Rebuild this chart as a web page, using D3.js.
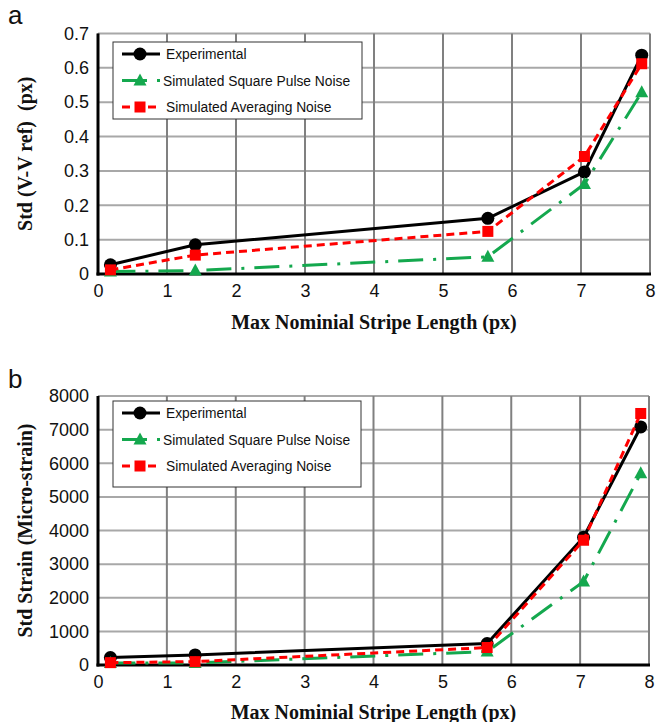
<!DOCTYPE html>
<html>
<head>
<meta charset="utf-8">
<script src="https://cdn.jsdelivr.net/npm/d3@7/dist/d3.min.js"></script>
<style>
  html, body { margin: 0; padding: 0; background: #fff; }
  svg { display: block; }
</style>
</head>
<body>
<svg id="chart" width="664" height="722"></svg>
<script>
// Max nominal stripe length (px) for the five test cases
const stripeLength = [0.18, 1.41, 5.65, 7.05, 7.88];

// Panel a: standard deviation of displacement (V - V ref), px
const dispExperimental = [0.027, 0.085, 0.162, 0.297, 0.637];
const dispSquarePulse  = [0.007, 0.010, 0.050, 0.262, 0.529];
const dispAveraging    = [0.012, 0.055, 0.124, 0.342, 0.612];

// Panel b: standard deviation of strain, micro-strain
const strainExperimental = [220, 300, 640, 3800, 7080];
const strainSquarePulse  = [60, 60, 400, 2480, 5700];
const strainAveraging    = [70, 100, 520, 3710, 7480];

const seriesNames = ["Experimental", "Simulated Square Pulse Noise", "Simulated Averaging Noise"];

const xTicks      = [0, 1, 2, 3, 4, 5, 6, 7, 8];
const dispTicks   = [0, 0.1, 0.2, 0.3, 0.4, 0.5, 0.6, 0.7];
const strainTicks = [0, 1000, 2000, 3000, 4000, 5000, 6000, 7000, 8000];

const styles = {
  "Experimental":                 { color: "#000000", dash: null,          marker: "circle" },
  "Simulated Square Pulse Noise": { color: "#14a84e", dash: "25,10,3,10",  marker: "triangle" },
  "Simulated Averaging Noise":    { color: "#ff0000", dash: "8,5",         marker: "square" }
};

const svg = d3.select("#chart");
const sans = "'Liberation Sans', Arial, sans-serif";
const serif = "'Liberation Serif', 'Times New Roman', serif";

function marker(g, type, x, y, color) {
  if (type === "circle") {
    g.append("circle").attr("cx", x).attr("cy", y).attr("r", 6.5).attr("fill", color);
  } else if (type === "square") {
    g.append("rect").attr("x", x - 5.5).attr("y", y - 5.5).attr("width", 11).attr("height", 11).attr("fill", color);
  } else {
    g.append("path").attr("transform", `translate(${x},${y})`)
      .attr("d", "M0,-7L6.5,5L-6.5,5Z").attr("fill", color);
  }
}

function drawPanel(opts) {
  const g = svg.append("g");
  const x = d3.scaleLinear().domain([0, 8]).range([opts.left, opts.right]);
  const y = d3.scaleLinear().domain([0, opts.yMax]).range([opts.bottom, opts.top]);

  // grid
  g.append("g").selectAll("line").data(opts.yTicks).join("line")
    .attr("x1", opts.left).attr("x2", opts.right)
    .attr("y1", d => y(d)).attr("y2", d => y(d))
    .attr("stroke", "#a8a8a8").attr("stroke-width", 2);
  g.append("g").selectAll("line").data(xTicks).join("line")
    .attr("x1", d => x(d)).attr("x2", d => x(d))
    .attr("y1", opts.top).attr("y2", opts.bottom)
    .attr("stroke", "#808080").attr("stroke-width", 2);

  // axes
  const yAxis = d3.axisLeft(y).tickValues(opts.yTicks).tickSize(0).tickPadding(9).tickFormat(opts.fmt);
  const xAxis = d3.axisBottom(x).tickValues(xTicks).tickSize(0).tickPadding(10).tickFormat(d3.format("d"));
  const ya = g.append("g").attr("transform", `translate(${opts.left},0)`).call(yAxis);
  const xa = g.append("g").attr("transform", `translate(0,${opts.bottom})`).call(xAxis);
  [ya, xa].forEach(a => {
    a.select(".domain").remove();
    a.selectAll("text").attr("font-family", sans).attr("font-size", 18).attr("fill", "#111");
  });
  g.append("line").attr("x1", opts.left).attr("x2", opts.left)
    .attr("y1", opts.top).attr("y2", opts.bottom + 1.5)
    .attr("stroke", "#000").attr("stroke-width", 3);
  g.append("line").attr("x1", opts.left - 1.5).attr("x2", opts.right + 1)
    .attr("y1", opts.bottom).attr("y2", opts.bottom)
    .attr("stroke", "#000").attr("stroke-width", 3);

  // legend
  const lg = g.append("g");
  lg.append("rect").attr("x", opts.legend.x).attr("y", opts.legend.y)
    .attr("width", opts.legend.w).attr("height", opts.legend.h)
    .attr("fill", "#fff").attr("stroke", "#333").attr("stroke-width", 1);
  seriesNames.forEach((name, i) => {
    const st = styles[name];
    const ry = opts.legend.y + 12 + i * 26.5;
    const lx = opts.legend.x + 9;
    lg.append("line").attr("x1", lx).attr("x2", lx + 38).attr("y1", ry).attr("y2", ry)
      .attr("stroke", st.color).attr("stroke-width", 3)
      .attr("stroke-dasharray", st.dash);
    marker(lg, st.marker, lx + 18, ry, st.color);
    lg.append("text").attr("x", name === seriesNames[1] ? lx + 41 : lx + 44).attr("y", ry + 5)
      .attr("font-family", sans).attr("font-size", 13.8).attr("fill", "#111").text(name);
  });

  // series
  const line = d3.line().x((d, i) => x(stripeLength[i])).y(d => y(d));
  opts.series.forEach((vals, k) => {
    const st = styles[seriesNames[k]];
    const sg = g.append("g");
    sg.append("path").datum(vals).attr("d", line).attr("fill", "none")
      .attr("stroke", st.color).attr("stroke-width", 3)
      .attr("stroke-dasharray", st.dash).attr("stroke-linejoin", "round");
    vals.forEach((v, i) => marker(sg, st.marker, x(stripeLength[i]), y(v), st.color));
  });

  // titles
  g.append("text").attr("x", (opts.left + opts.right) / 2).attr("y", opts.xTitleY)
    .attr("text-anchor", "middle").attr("font-family", serif).attr("font-weight", "bold")
    .attr("font-size", 20).attr("fill", "#111").text("Max Nominial Stripe Length (px)");
  g.append("text").attr("transform", `translate(32,${(opts.top + opts.bottom) / 2}) rotate(-90)`)
    .attr("text-anchor", "middle").attr("font-family", serif).attr("font-weight", "bold")
    .attr("font-size", 20).attr("fill", "#111").style("white-space", "pre").text(opts.yTitle);
  g.append("text").attr("x", 8).attr("y", opts.labelY)
    .attr("font-family", sans).attr("font-size", 26).attr("fill", "#111").text(opts.label);
}

drawPanel({
  label: "a", labelY: 24,
  left: 98, right: 650, top: 33.5, bottom: 274,
  yMax: 0.7, yTicks: dispTicks,
  fmt: d => d === 0 ? "0" : d3.format(".1f")(d),
  series: [dispExperimental, dispSquarePulse, dispAveraging],
  legend: { x: 113, y: 42, w: 249, h: 77 },
  xTitleY: 329,
  yTitle: "Std (V-V ref)  (px)"
});

drawPanel({
  label: "b", labelY: 388,
  left: 98, right: 649, top: 396, bottom: 665,
  yMax: 8000, yTicks: strainTicks,
  fmt: d3.format("d"),
  series: [strainExperimental, strainSquarePulse, strainAveraging],
  legend: { x: 113, y: 401, w: 248, h: 86 },
  xTitleY: 719,
  yTitle: "Std Strain (Micro-strain)"
});
</script>
</body>
</html>
